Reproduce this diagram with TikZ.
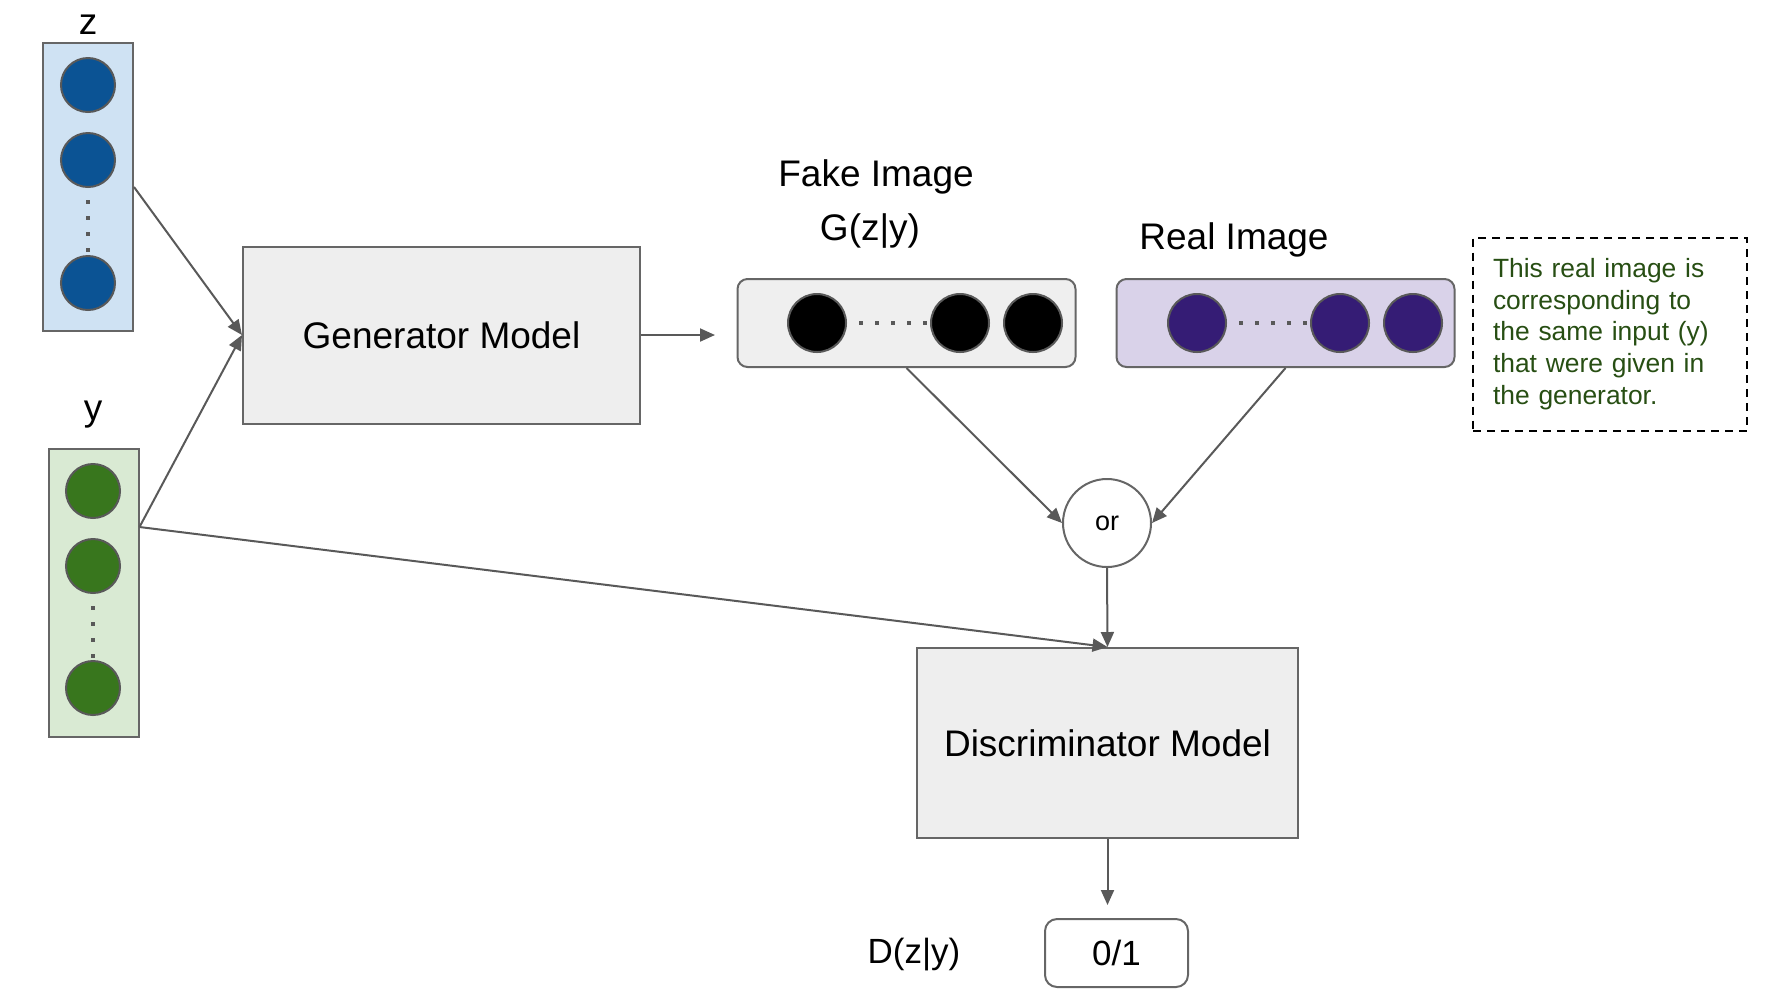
\documentclass[tikz,border=0pt]{standalone}
\usepackage{fontspec}
\setmainfont{Liberation Sans}
\usetikzlibrary{arrows.meta}
\definecolor{edgegray}{HTML}{595959}
\definecolor{boxgray}{HTML}{666666}
\definecolor{zfill}{HTML}{CFE2F3}
\definecolor{zunit}{HTML}{0B5394}
\definecolor{yfill}{HTML}{D9EAD3}
\definecolor{yunit}{HTML}{38761D}
\definecolor{modelfill}{HTML}{EEEEEE}
\definecolor{fakefill}{HTML}{EFEFEF}
\definecolor{realfill}{HTML}{D9D2E9}
\definecolor{realunit}{HTML}{351C75}
\definecolor{notegreen}{HTML}{274E13}

\begin{document}
\begin{tikzpicture}[x=0.5pt,y=-0.5pt,
    conn/.style={draw=edgegray,line width=1pt,-{Triangle[length=7.5pt,width=6.5pt]}},
    model/.style={draw=boxgray,fill=modelfill,line width=1pt,font=\fontsize{18.5}{22}\selectfont},
    vecbox/.style={draw=boxgray,line width=1pt,minimum width=45pt,minimum height=144pt,inner sep=0pt},
    imgbox/.style={draw=boxgray,line width=1pt,rounded corners=5pt,minimum width=169pt,minimum height=44pt,inner sep=0pt},
    unit/.style={circle,draw=edgegray,line width=1pt,minimum size=27pt,inner sep=0pt},
    pixel/.style={circle,draw=edgegray,line width=1pt,minimum size=29pt,inner sep=0pt},
    dots/.style={draw=edgegray,line width=2pt,dash pattern=on 2pt off 6pt,dash phase=-6pt},
    lbl/.style={font=\fontsize{18.5}{22}\selectfont,inner sep=0pt}]
  \useasboundingbox (0,0) rectangle (1780,1003);

  \node[vecbox,fill=zfill] (zbox) at (88,187) {};
  \node[unit,fill=zunit] (z1) at (88,85) {};
  \node[unit,fill=zunit] (z2) at (88,160) {};
  \node[unit,fill=zunit] (z3) at (88,283) {};
  \draw[dots] (z2.south) -- (z3.north);
  \node[lbl] (zlbl) at (88,25) {z};

  \node[vecbox,fill=yfill] (ybox) at (93.5,593) {};
  \node[unit,fill=yunit] (y1) at (93,491) {};
  \node[unit,fill=yunit] (y2) at (93,566) {};
  \node[unit,fill=yunit] (y3) at (93,688) {};
  \draw[dots] (y2.south) -- (y3.north);
  \node[lbl] (ylbl) at (93,415) {y};

  \node[model,minimum width=198.5pt,minimum height=88.5pt] (gen) at (441.5,335) {Generator Model};

  \node[imgbox,fill=fakefill] (fake) at (906.5,323) {};
  \node[pixel,fill=black] (f1) at (817,323) {};
  \node[pixel,fill=black] (f2) at (960,323) {};
  \node[pixel,fill=black] (f3) at (1033,323) {};
  \draw[dots] (f1.east) -- (f2.west);
  \node[lbl] (fakelbl) at (876,177) {Fake Image};
  \node[lbl] (glbl) at (870,231) {G(z|y)};

  \node[imgbox,fill=realfill] (real) at (1285.5,323) {};
  \node[pixel,fill=realunit] (r1) at (1197,323) {};
  \node[pixel,fill=realunit] (r2) at (1340,323) {};
  \node[pixel,fill=realunit] (r3) at (1413,323) {};
  \draw[dots] (r1.east) -- (r2.west);
  \node[lbl] (reallbl) at (1234,240) {Real Image};

  \node[draw=black,line width=1pt,dash pattern=on 4pt off 3pt,minimum width=137pt,minimum height=96.5pt,
    inner xsep=10pt,text width=117pt,align=left,text=notegreen,font=\fontsize{13.2}{15.8}\selectfont] (note) at (1610,334)
    {This real image is\\corresponding to\\the same input (y)\\that were given in\\the generator.};

  \node[circle,draw=boxgray,line width=1pt,minimum size=44pt,inner sep=0pt,font=\fontsize{13.5}{16}\selectfont] (orn) at (1107,523) {or};

  \node[model,minimum width=190.5pt,minimum height=95pt] (disc) at (1107.5,743) {Discriminator Model};

  \node[draw=boxgray,line width=1pt,rounded corners=6pt,minimum width=71.5pt,minimum height=34pt,
    font=\fontsize{17.5}{21}\selectfont] (out) at (1116.5,953) {0/1};
  \node[font=\fontsize{17.5}{21}\selectfont,inner sep=0pt] (dlbl) at (914,955) {D(z|y)};

  \coordinate (yout) at ([yshift=33pt]ybox.east);
  \coordinate (genout) at (715,335);
  \coordinate (discout) at (1107.5,905);
  \draw[conn] (zbox.east) -- (gen.west);
  \draw[conn] (yout) -- (gen.west);
  \draw[conn] (yout) -- (disc.north);
  \draw[conn] (gen.east) -- (genout);
  \draw[conn] (fake.south) -- (orn.west);
  \draw[conn] (real.south) -- (orn.east);
  \draw[conn] (orn.south) -- (disc.north);
  \draw[conn] (disc.south) -- (discout);
\end{tikzpicture}
\end{document}
